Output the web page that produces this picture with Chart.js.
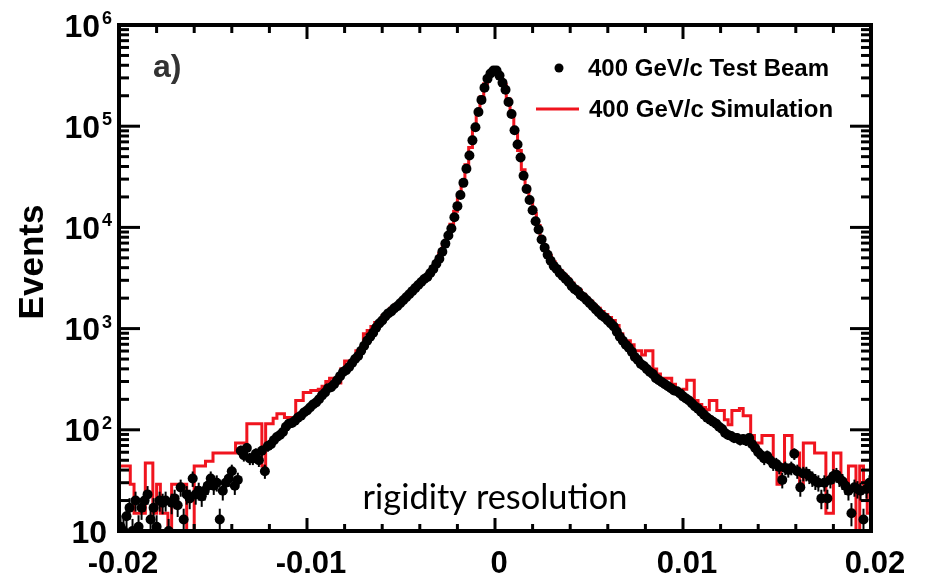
<!DOCTYPE html>
<html lang="en">
<head>
<meta charset="UTF-8">
<title>Rigidity resolution, 400 GeV/c</title>
<script src="https://cdn.jsdelivr.net/npm/chart.js@4"></script>
<style>
  html, body { margin: 0; padding: 0; background: #fff; }
  #wrap { width: 926px; height: 578px; }
</style>
</head>
<body>
<div id="wrap"><canvas id="chart" width="926" height="578"></canvas></div>
<script>
// binning of the two histograms (rigidity resolution axis)
const BIN_LO = -0.02;
const BIN_HI = 0.02;
const DATA_BIN_W = 0.00016;  // 250 bins, test beam
const SIM_BIN_W = 0.0002;    // 200 bins, simulation

// 400 GeV/c test beam, events per bin
const testBeam = [
  11, 10, 14, 17, 10, 20, 11, 17, 20, 23,
  13, 17, 11, 20, 19, 20, 10, 19, 21, 18,
  27, 13, 23, 21, 33, 23, 25, 22, 25, 28,
  33, 28, 30, 13, 25, 30, 33, 39, 28, 32,
  62, 56, 66, 52, 52, 58, 50, 62, 39, 69,
  72, 79, 85, 89, 95, 107, 115, 117, 123, 132,
  138, 148, 155, 166, 178, 186, 200, 219, 234, 257,
  263, 282, 309, 339, 372, 389, 417, 457, 501, 537,
  603, 676, 759, 832, 912, 1023, 1122, 1202, 1318, 1413,
  1479, 1585, 1660, 1778, 1905, 2042, 2188, 2344, 2512, 2692,
  2884, 3090, 3236, 3548, 3890, 4365, 4898, 5754, 6918, 8318,
  9772, 12590, 16218, 20893, 27542, 38019, 51286, 72444, 97724, 138038,
  181970, 239883, 295121, 331131, 354813, 354813, 316228, 269153, 229087, 173780,
  131826, 91201, 66069, 48978, 32359, 23988, 18621, 14791, 11482, 9550,
  7586, 6310, 5370, 4677, 4169, 3890, 3548, 3311, 3090, 2884,
  2630, 2455, 2344, 2138, 2042, 1905, 1778, 1660, 1549, 1445,
  1349, 1288, 1202, 1122, 1047, 933, 832, 759, 692, 646,
  589, 525, 490, 447, 427, 398, 372, 355, 324, 309,
  295, 282, 269, 257, 245, 240, 229, 214, 204, 195,
  182, 170, 162, 151, 141, 132, 126, 120, 115, 107,
  102, 93, 89, 87, 83, 83, 79, 81, 78, 83,
  72, 66, 60, 56, 52, 55, 50, 46, 46, 43,
  32, 42, 40, 42, 58, 39, 27, 37, 37, 35,
  33, 31, 30, 21, 30, 21, 32, 35, 36, 33,
  31, 28, 25, 15, 27, 26, 25, 13, 26, 30
];

// 400 GeV/c simulation, events per bin
const simulation = [
  44, 44, 44, 29, 15, 15, 15, 47, 47, 15,
  29, 15, 15, 0, 29, 29, 29, 29, 0, 0,
  44, 44, 44, 49, 49, 59, 59, 59, 59, 59,
  59, 74, 74, 74, 115, 115, 115, 115, 44, 115,
  115, 130, 144, 144, 132, 132, 132, 195, 195, 234,
  234, 245, 245, 251, 270, 300, 324, 324, 290, 400,
  479, 479, 479, 603, 603, 891, 955, 1047, 1148, 1202,
  1349, 1445, 1585, 1698, 1778, 1950, 2138, 2291, 2512, 2754,
  2951, 3236, 3548, 3981, 4571, 5495, 6761, 8511, 10715, 14454,
  19953, 27542, 41687, 61660, 93325, 138038, 194984, 263027, 316228, 354813,
  354813, 316228, 257040, 186209, 131826, 87096, 57544, 37154, 25119, 18621,
  13804, 10471, 7943, 6310, 5248, 4571, 4074, 3715, 3388, 3090,
  2818, 2570, 2399, 2188, 1995, 1862, 1698, 1585, 1479, 1380,
  1288, 1202, 1072, 890, 759, 759, 692, 603, 603, 550,
  603, 603, 398, 355, 324, 324, 324, 282, 251, 240,
  251, 309, 309, 195, 178, 166, 158, 195, 195, 155,
  155, 126, 112, 155, 155, 162, 138, 138, 88, 74,
  74, 88, 88, 88, 44, 29, 44, 88, 88, 59,
  59, 29, 74, 74, 74, 59, 59, 59, 15, 15,
  59, 59, 29, 29, 44, 44, 0, 44, 29, 15
];

const xTickValues = [-0.02, -0.01, 0, 0.01, 0.02];
const xTickLabels = ['-0.02', '-0.01', '0', '0.01', '0.02'];
const yTickExponents = [1, 2, 3, 4, 5, 6];
const seriesNames = ['400 GeV/c Test Beam', '400 GeV/c Simulation'];

const RED = '#f0141e';
const FLOOR = 1; // empty bins are drawn down to below the axis

const dataPts = testBeam.map((n, i) => ({ x: BIN_LO + DATA_BIN_W * (i + 0.5), y: n }));
const simPts = [{ x: BIN_LO, y: FLOOR }]
  .concat(simulation.map((n, j) => ({ x: BIN_LO + SIM_BIN_W * j, y: n > 0 ? n : FLOOR })))
  .concat([{ x: BIN_HI, y: simulation[simulation.length - 1] || FLOOR }]);

function line(ctx, x1, y1, x2, y2) {
  ctx.beginPath();
  ctx.moveTo(x1, y1);
  ctx.lineTo(x2, y2);
  ctx.stroke();
}

const rootStyle = {
  id: 'rootStyle',
  afterDatasetsDraw(chart) {
    // sqrt(N) error bars on the test beam points
    const { ctx, chartArea: a, scales: { x, y } } = chart;
    ctx.save();
    ctx.beginPath();
    ctx.rect(a.left, a.top, a.right - a.left, a.bottom - a.top);
    ctx.clip();
    ctx.strokeStyle = '#000';
    ctx.lineWidth = 2;
    dataPts.forEach(p => {
      const e = Math.sqrt(p.y);
      const px = x.getPixelForValue(p.x);
      line(ctx, px, y.getPixelForValue(p.y + e), px, y.getPixelForValue(Math.max(p.y - e, 0.5)));
    });
    ctx.restore();
  },
  afterDraw(chart) {
    const { ctx, chartArea: a, scales: { x, y } } = chart;
    ctx.save();
    ctx.strokeStyle = '#000';
    ctx.fillStyle = '#000';

    // ticks, pointing inwards on all four sides
    ctx.lineWidth = 3;
    for (let k = -10; k <= 10; k++) {
      const px = x.getPixelForValue(k * 0.002);
      const major = k % 5 === 0;
      line(ctx, px, a.bottom, px, a.bottom - (major ? 13 : 7));
      line(ctx, px, a.top, px, a.top + (major ? 14 : 8));
    }
    for (let e = 1; e <= 6; e++) {
      for (let m = 1; m <= (e === 6 ? 1 : 9); m++) {
        const py = y.getPixelForValue(m * Math.pow(10, e));
        const len = m === 1 ? 21 : 10;
        line(ctx, a.left, py, a.left + len, py);
        line(ctx, a.right, py, a.right - len, py);
      }
    }

    // frame
    ctx.lineWidth = 4;
    ctx.strokeRect(a.left, a.top, a.right - a.left, a.bottom - a.top);

    // x tick labels
    ctx.font = 'bold 31px "Liberation Sans", Arial, sans-serif';
    ctx.textAlign = 'center';
    ctx.textBaseline = 'alphabetic';
    xTickValues.forEach((v, i) => {
      ctx.fillText(xTickLabels[i], x.getPixelForValue(v) + 4, 573);
    });

    // y tick labels 10^n
    yTickExponents.forEach(n => {
      const py = y.getPixelForValue(Math.pow(10, n));
      ctx.textAlign = 'right';
      ctx.font = 'bold 32px "Liberation Sans", Arial, sans-serif';
      if (n === 1) {
        ctx.fillText('10', 107, py + 12);
      } else {
        ctx.fillText('10', 100, py + 11.5);
        ctx.textAlign = 'left';
        ctx.font = 'bold 18px "Liberation Sans", Arial, sans-serif';
        ctx.fillText(String(n), 102, py - 1);
      }
    });

    // axis title
    ctx.save();
    ctx.translate(43, 262);
    ctx.rotate(-Math.PI / 2);
    ctx.textAlign = 'center';
    ctx.font = 'bold 35px "Liberation Sans", Arial, sans-serif';
    ctx.fillText('Events', 0, 0);
    ctx.restore();

    // panel label
    ctx.textAlign = 'left';
    ctx.fillStyle = '#333';
    ctx.font = 'bold 32px "Liberation Sans", Arial, sans-serif';
    ctx.fillText('a)', 153, 77);

    // legend
    ctx.fillStyle = '#000';
    ctx.beginPath();
    ctx.arc(559, 68, 4.5, 0, Math.PI * 2);
    ctx.fill();
    ctx.font = 'bold 24px "Liberation Sans", Arial, sans-serif';
    ctx.fillText(seriesNames[0], 588, 76);
    ctx.strokeStyle = RED;
    ctx.lineWidth = 3;
    line(ctx, 536, 109, 579, 109);
    ctx.fillText(seriesNames[1], 589, 117);

    // quantity label
    ctx.textAlign = 'center';
    ctx.font = '35px Lato, sans-serif';
    const w = ctx.measureText('rigidity resolution').width;
    ctx.font = (35 * 265 / w).toFixed(1) + 'px Lato, sans-serif';
    ctx.fillText('rigidity resolution', x.getPixelForValue(0), 509);

    ctx.restore();
  }
};

new Chart(document.getElementById('chart'), {
  type: 'scatter',
  data: {
    datasets: [
      {
        type: 'line',
        label: seriesNames[1],
        data: simPts,
        stepped: true,
        borderColor: RED,
        borderWidth: 3,
        pointRadius: 0,
        fill: false,
        order: 2
      },
      {
        type: 'scatter',
        label: seriesNames[0],
        data: dataPts,
        pointRadius: 5,
        backgroundColor: '#000',
        borderWidth: 0,
        order: 1
      }
    ]
  },
  options: {
    responsive: false,
    animation: false,
    devicePixelRatio: 1,
    events: [],
    layout: { padding: { left: 119, right: 55, top: 25, bottom: 47 } },
    plugins: { legend: { display: false }, tooltip: { enabled: false } },
    scales: {
      x: { type: 'linear', min: BIN_LO, max: BIN_HI, display: false },
      y: { type: 'logarithmic', min: 10, max: 1e6, display: false }
    }
  },
  plugins: [rootStyle]
});
</script>
</body>
</html>
